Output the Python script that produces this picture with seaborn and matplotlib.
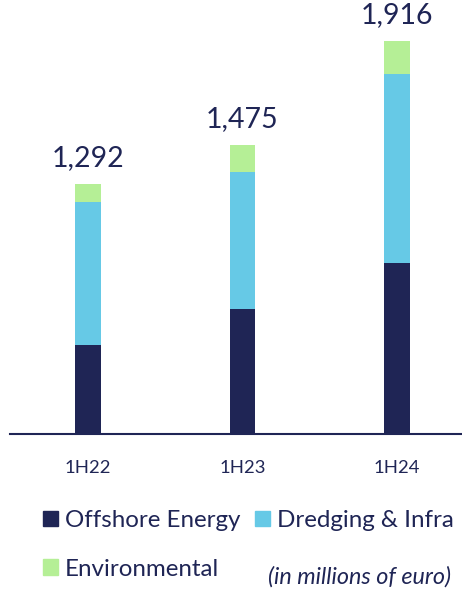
import matplotlib
matplotlib.use("Agg")
import pandas as pd
import seaborn as sns
import matplotlib.pyplot as plt
from matplotlib.patches import Patch

# data (millions of euro)
periods = ["1H22", "1H23", "1H24"]
offshore = [385, 540, 740]
dredging = [620, 594, 821]
environmental = [78, 120, 146]
totals = [1292, 1475, 1916]
total_labels = ["1,292", "1,475", "1,916"]

navy = "#1F2555"
blue = "#66C9E6"
green = "#B5EF96"

sns.set_theme(style="white")
plt.rcParams["font.family"] = ["Lato", "DejaVu Sans"]

df = pd.DataFrame({"period": periods, "offshore": offshore,
                   "dredging": dredging, "environmental": environmental})
df["lvl2"] = df["offshore"] + df["dredging"]
df["lvl3"] = df["lvl2"] + df["environmental"]

W, H = 462, 589
fig = plt.figure(figsize=(W / 100, H / 100), dpi=100)
ax = fig.add_axes([10 / W, (H - 433.5) / H, 452 / W, 423.5 / H])

# stacked bars drawn as overlapping cumulative layers
bw = 0.166
sns.barplot(data=df, x="period", y="lvl3", color=green, width=bw, ax=ax, linewidth=0, saturation=1)
sns.barplot(data=df, x="period", y="lvl2", color=blue, width=bw, ax=ax, linewidth=0, saturation=1)
sns.barplot(data=df, x="period", y="offshore", color=navy, width=bw, ax=ax, linewidth=0, saturation=1)

for i, lab in enumerate(total_labels):
    ax.annotate(lab, (i, df["lvl3"][i]), xytext=(0, 18.7), textcoords="offset points",
                ha="center", va="center", fontsize=20.5, color=navy)

ax.set_xlim(-0.503, 2.419)
ax.set_ylim(0, 1840)
ax.set_xlabel("")
ax.set_ylabel("")
ax.set_yticks([])
for s in ["top", "right", "left"]:
    ax.spines[s].set_visible(False)
ax.spines["bottom"].set_color(navy)
ax.spines["bottom"].set_linewidth(1.5)
ax.tick_params(axis="x", length=0, pad=19, labelsize=13.3, labelcolor=navy)

handles = [Patch(color=navy, label="Offshore Energy"),
           Patch(color=green, label="Environmental"),
           Patch(color=blue, label="Dredging & Infra")]
fig.legend(handles=handles, ncol=2, loc="upper left", bbox_to_anchor=(43 / W, 1 - 510 / H),
           frameon=False, fontsize=17.4, labelcolor=navy, handlelength=0.62, handleheight=0.62,
           handletextpad=0.3, columnspacing=0.6, labelspacing=1.15, borderaxespad=0, borderpad=0)

fig.text(451 / W, 1 - 577 / H, "(in millions of euro)", ha="right", va="center",
         fontsize=16.8, style="italic", color=navy)

fig.savefig("out.png", dpi=100)
